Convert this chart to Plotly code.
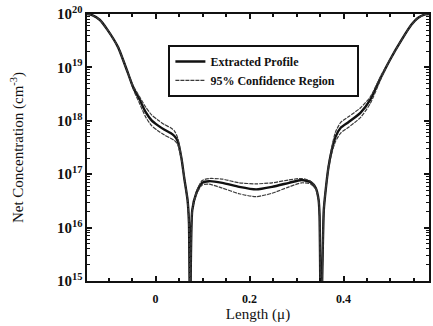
import plotly.graph_objects as go

# Position along the device (microns)
length_um = [
    -0.146, -0.135, -0.119, -0.102, -0.080, -0.059, -0.047, -0.034, -0.021, -0.0085,
    0.004, 0.019, 0.032, 0.040, 0.047, 0.055, 0.061, 0.068, 0.071, 0.0735,
    0.078, 0.087, 0.099, 0.114, 0.142, 0.178, 0.214, 0.248, 0.284, 0.311,
    0.330, 0.341, 0.347, 0.349, 0.352, 0.358, 0.362, 0.368, 0.375, 0.383,
    0.394, 0.411, 0.436, 0.457, 0.480, 0.502, 0.523, 0.544, 0.559, 0.574, 0.582,
]

# Extracted net doping profile (cm^-3)
extracted = [
    1.0e20, 9.5e19, 7.8e19, 5.0e19, 2.4e19, 7.9e18, 4.1e18, 2.5e18, 1.45e18, 1.02e18,
    8.3e17, 6.8e17, 5.9e17, 5.2e17, 4.2e17, 2.0e17, 8.5e16, 3.3e16, 1.26e16, 1.0e14,
    2.1e16, 4.5e16, 6.9e16, 7.4e16, 6.9e16, 5.8e16, 5.2e16, 5.8e16, 6.9e16, 7.8e16,
    7.1e16, 5.5e16, 3.3e16, 1.7e16, 1.0e14, 2.1e16, 5.0e16, 1.35e17, 2.8e17, 5.0e17,
    7.4e17, 9.5e17, 1.41e18, 2.5e18, 6.6e18, 1.55e19, 3.2e19, 6.2e19, 8.5e19, 9.8e19, 1.0e20,
]

# Upper bound of the 95% confidence region (cm^-3)
conf_upper = [
    1.0e20, 9.5e19, 7.8e19, 5.0e19, 2.4e19, 7.9e18, 4.4e18, 2.8e18, 1.8e18, 1.29e18,
    1.05e18, 8.5e17, 7.4e17, 6.5e17, 4.8e17, 2.1e17, 8.5e16, 3.3e16, 1.26e16, 1.0e14,
    2.1e16, 4.7e16, 7.6e16, 8.3e16, 8.1e16, 6.9e16, 6.6e16, 6.9e16, 7.8e16, 8.3e16,
    7.4e16, 5.6e16, 3.3e16, 1.7e16, 1.0e14, 2.1e16, 5.0e16, 1.45e17, 3.2e17, 6.2e17,
    9.3e17, 1.2e18, 1.74e18, 2.8e18, 7.1e18, 1.55e19, 3.2e19, 6.2e19, 8.5e19, 9.8e19, 1.0e20,
]

# Lower bound of the 95% confidence region (cm^-3)
conf_lower = [
    1.0e20, 9.5e19, 7.8e19, 5.0e19, 2.4e19, 7.9e18, 3.8e18, 2.1e18, 1.17e18, 8.1e17,
    6.6e17, 5.4e17, 4.7e17, 4.3e17, 3.6e17, 1.86e17, 8.5e16, 3.3e16, 1.26e16, 1.0e14,
    2.1e16, 4.2e16, 6.3e16, 6.5e16, 5.5e16, 4.3e16, 3.8e16, 4.4e16, 5.8e16, 6.9e16,
    6.6e16, 5.2e16, 3.3e16, 1.7e16, 1.0e14, 2.1e16, 5.0e16, 1.26e17, 2.5e17, 4.1e17,
    5.9e17, 7.6e17, 1.15e18, 2.1e18, 6.2e18, 1.55e19, 3.2e19, 6.2e19, 8.5e19, 9.8e19, 1.0e20,
]

x_tick_vals = [0, 0.2, 0.4]
x_tick_text = ["0", "0.2", "0.4"]

SERIF = "Liberation Serif"
PAD = "\u00a0" * 6  # extra room on the right of the legend box

fig = go.Figure()

fig.add_trace(go.Scatter(
    x=length_um, y=extracted, mode="lines", name="Extracted Profile",
    line=dict(color="#111111", width=2.4, shape="spline", smoothing=0.6),
))
fig.add_trace(go.Scatter(
    x=length_um, y=conf_upper, mode="lines", name="95% Confidence Region" + PAD,
    line=dict(color="#3a3a3a", width=1.2, shape="spline", smoothing=0.6, dash="4px,1px"),
    legendgroup="conf",
))
fig.add_trace(go.Scatter(
    x=length_um, y=conf_lower, mode="lines", name="95% Confidence Region",
    line=dict(color="#3a3a3a", width=1.2, shape="spline", smoothing=0.6, dash="4px,1px"),
    legendgroup="conf", showlegend=False,
))

fig.update_layout(
    width=433, height=326,
    margin=dict(l=87, r=2, t=14, b=45),
    paper_bgcolor="white", plot_bgcolor="white",
    font=dict(family=SERIF, color="#111111", size=12),
    showlegend=True,
    legend=dict(
        x=0.238, y=0.884, xanchor="left", yanchor="top",
        bgcolor="white", bordercolor="#111111", borderwidth=2,
        font=dict(family=SERIF, size=12, weight="bold"),
        itemwidth=30, tracegroupgap=0,
    ),
)

fig.update_xaxes(
    range=[-0.146, 0.582],
    tickmode="array", tickvals=x_tick_vals, ticktext=x_tick_text,
    ticks="inside", ticklen=5, tickwidth=2, tickcolor="#111111",
    minor=dict(ticks="inside", ticklen=3, tickwidth=1.5, dtick=0.05, tick0=0, tickcolor="#111111"),
    showgrid=False, zeroline=False,
    showline=True, linecolor="#111111", linewidth=2, mirror="allticks",
    tickfont=dict(family=SERIF, size=12, weight="bold"),
    ticklabelstandoff=6,
    title=dict(text="Length (\u03bc)", font=dict(family=SERIF, size=15), standoff=0),
)

fig.update_yaxes(
    type="log", range=[15, 20],
    dtick=1, exponentformat="power", showexponent="all",
    ticks="inside", ticklen=5, tickwidth=2, tickcolor="#111111",
    minor=dict(ticks="inside", ticklen=3, tickwidth=1, dtick="D1", tickcolor="#111111"),
    showgrid=False, zeroline=False,
    showline=True, linecolor="#111111", linewidth=2, mirror="allticks",
    tickfont=dict(family=SERIF, size=12, weight="bold"),
    title=dict(text="Net Concentration (cm<sup>-3</sup>)", font=dict(family=SERIF, size=15), standoff=30),
)

fig.write_html("out.html")
